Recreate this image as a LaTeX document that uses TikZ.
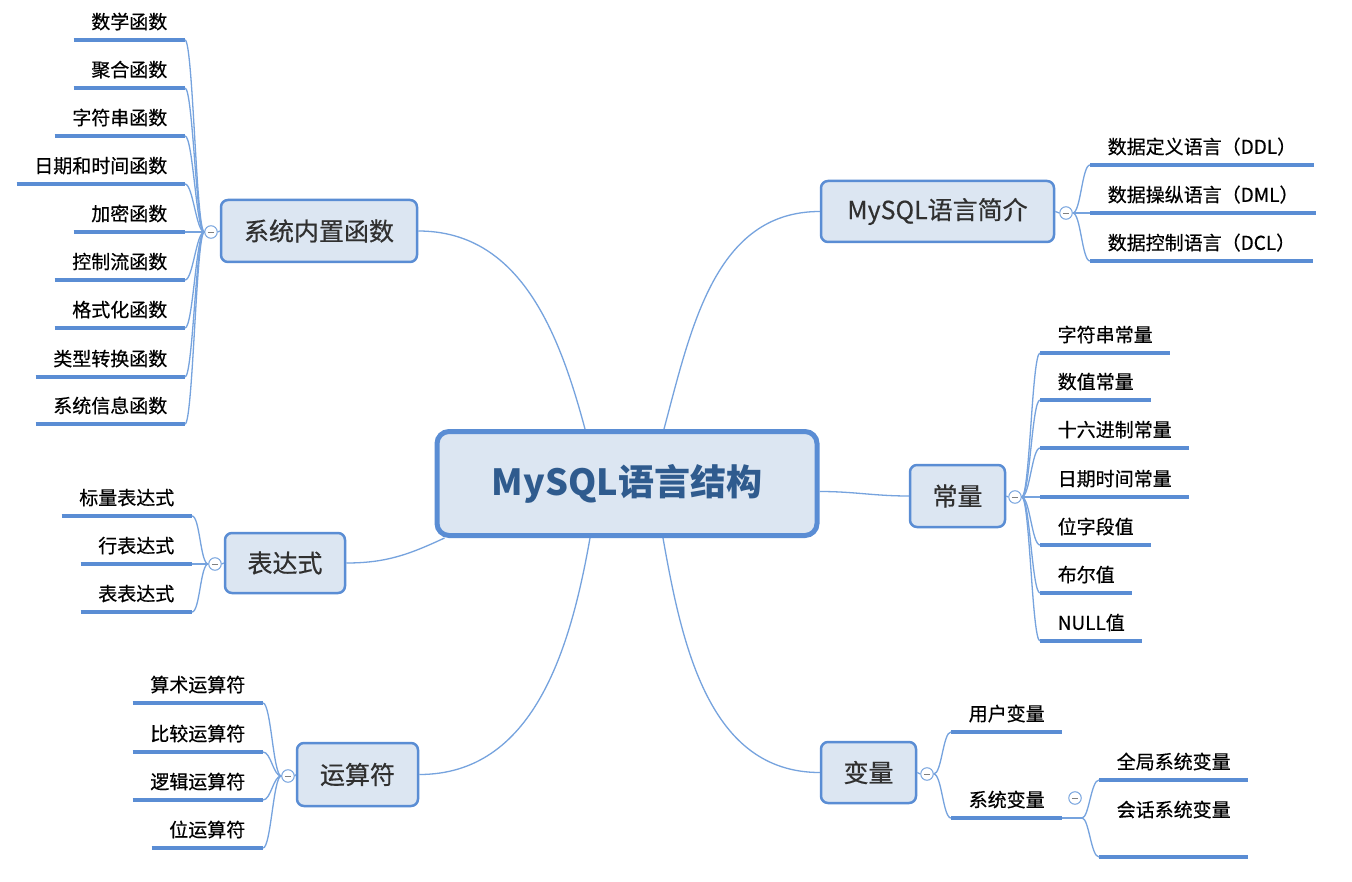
\documentclass[tikz,border=0pt]{standalone}
\usepackage{fontspec}
\setmainfont{Noto Sans CJK SC}
\newfontfamily\heavyfont[FakeBold=0.5]{Noto Sans CJK SC}
\usetikzlibrary{calc}
\definecolor{lineblue}{HTML}{5A8DD4}
\definecolor{connblue}{HTML}{76A3DE}
\definecolor{boxfill}{HTML}{DCE6F2}
\definecolor{titleblue}{HTML}{2F5B8E}
\definecolor{maintext}{HTML}{303030}
\begin{document}
\begin{tikzpicture}[x=1pt,y=-1pt,
  root/.style={draw=lineblue, line width=5pt, fill=boxfill, rounded corners=12pt,
    minimum width=380pt, minimum height=104pt, text=titleblue,
    font=\fontsize{36}{42}\selectfont\bfseries},
  topic/.style={draw=lineblue, line width=2.5pt, fill=boxfill, rounded corners=7pt,
    minimum height=62pt, text=maintext, font=\heavyfont\fontsize{25}{30}\selectfont},
  leafbase/.style={inner xsep=17.5pt, inner ysep=0pt, text height=16pt, text depth=11pt,
    font=\heavyfont\fontsize{19}{23}\selectfont, text=black},
  leafL/.style={leafbase, anchor=south east},
  leafR/.style={leafbase, anchor=south west},
  uline/.style={draw=lineblue, line width=4pt},
  conn/.style={draw=connblue, line width=1.3pt},
  collapse/.style={circle, draw=connblue, fill=white, line width=1pt, minimum size=12.5pt, inner sep=0pt,
    path picture={\draw[gray, line width=0.9pt]
      ([xshift=3.2pt]path picture bounding box.west) -- ([xshift=-3.2pt]path picture bounding box.east);}}
]
\fill[white] (0,0) rectangle (1352,882);
\useasboundingbox (0,0) rectangle (1352,882);

% central and topic nodes
\node[root] (root) at (627,483.5) {MySQL语言结构};
\node[topic, minimum width=196pt] (sys) at (319,231) {系统内置函数};
\node[topic, minimum width=233pt, minimum height=61pt] (intro) at (937.5,211.5) {MySQL语言简介};
\node[topic, minimum width=95pt] (const) at (957.5,496) {常量};
\node[topic, minimum width=120pt, minimum height=60pt] (expr) at (285,563) {表达式};
\node[topic, minimum width=121pt, minimum height=63pt] (op) at (357.5,774.5) {运算符};
\node[topic, minimum width=95pt, minimum height=61pt] (var) at (868.5,772.5) {变量};

% collapse buttons
\node[collapse] (csys) at (211,232) {};
\node[collapse] (cintro) at (1066,213) {};
\node[collapse] (cconst) at (1015,497) {};
\node[collapse] (cexpr) at (215,564) {};
\node[collapse] (cop) at (288,776) {};
\node[collapse] (cvar) at (927,774) {};
\node[collapse] (csv) at (1075,798) {};

% leaves: 系统内置函数
\node[leafL] (f1) at (185,40) {数学函数};
\node[leafL] (f2) at (185,88) {聚合函数};
\node[leafL] (f3) at (185,136) {字符串函数};
\node[leafL] (f4) at (185,184) {日期和时间函数};
\node[leafL] (f5) at (185,232) {加密函数};
\node[leafL] (f6) at (185,280) {控制流函数};
\node[leafL] (f7) at (185,328) {格式化函数};
\node[leafL] (f8) at (185,377) {类型转换函数};
\node[leafL] (f9) at (185,424) {系统信息函数};

% leaves: MySQL语言简介
\node[leafR] (i1) at (1090,165) {数据定义语言（DDL）};
\node[leafR] (i2) at (1090,213) {数据操纵语言（DML）};
\node[leafR] (i3) at (1090,261) {数据控制语言（DCL）};

% leaves: 常量
\node[leafR] (k1) at (1040,353) {字符串常量};
\node[leafR] (k2) at (1040,400) {数值常量};
\node[leafR] (k3) at (1040,448) {十六进制常量};
\node[leafR] (k4) at (1040,497) {日期时间常量};
\node[leafR] (k5) at (1040,545) {位字段值};
\node[leafR] (k6) at (1040,593) {布尔值};
\node[leafR] (k7) at (1040,641) {NULL值};

% leaves: 表达式
\node[leafL] (e1) at (192,516) {标量表达式};
\node[leafL] (e2) at (192,564) {行表达式};
\node[leafL] (e3) at (192,612) {表表达式};

% leaves: 运算符
\node[leafL] (o1) at (263,703) {算术运算符};
\node[leafL] (o2) at (263,752) {比较运算符};
\node[leafL] (o3) at (263,800) {逻辑运算符};
\node[leafL] (o4) at (263,848) {位运算符};

% leaves: 变量
\node[leafR] (v1) at (951,732) {用户变量};
\node[leafR] (v2) at (951,818) {系统变量};
\node[leafR] (s1) at (1099,780) {全局系统变量};
\node[leafR, text depth=40pt] (s2) at (1099,857) {会话系统变量};
\coordinate (svj) at (1082,818);

% underlines
\foreach \l in {f1,f2,f3,f4,f5,f6,f7,f8,f9,i1,i2,i3,k1,k2,k3,k4,k5,k6,k7,e1,e2,e3,o1,o2,o3,o4,v1,v2,s1,s2}
  \draw[uline] (\l.south west) -- (\l.south east);

% root to topics
\draw[conn] ([xshift=-42pt]root.north) to[out=105,in=0] (sys.east);
\draw[conn] ([xshift=37pt]root.north) to[out=75,in=180] (intro.west);
\draw[conn] ([yshift=-8pt]root.east) to[out=0,in=180] (const.west);
\draw[conn] ([xshift=10pt]root.south west) to[out=205,in=0] (expr.east);
\draw[conn] ([xshift=-37pt]root.south) to[out=260,in=0] (op.east);
\draw[conn] ([xshift=36pt]root.south) to[out=280,in=180] (var.west);

% topics to collapse buttons
\draw[conn] (sys.west) -- (csys.east);
\draw[conn] (intro.east) -- (cintro.west);
\draw[conn] (const.east) -- (cconst.west);
\draw[conn] (expr.west) -- (cexpr.east);
\draw[conn] (op.west) -- (cop.east);
\draw[conn] (var.east) -- (cvar.west);

% branches to leaves
\foreach \l in {f1,f2,f3,f4,f5,f6,f7,f8,f9}
  \draw[conn] (csys.west) .. controls +(-8,0) and +(8,0) .. (\l.south east);
\foreach \l in {i1,i2,i3}
  \draw[conn] (cintro.east) .. controls +(8,0) and +(-8,0) .. (\l.south west);
\foreach \l in {k1,k2,k3,k4,k5,k6,k7}
  \draw[conn] (cconst.east) .. controls +(8,0) and +(-8,0) .. (\l.south west);
\foreach \l in {e1,e2,e3}
  \draw[conn] (cexpr.west) .. controls +(-8,0) and +(8,0) .. (\l.south east);
\foreach \l in {o1,o2,o3,o4}
  \draw[conn] (cop.west) .. controls +(-8,0) and +(8,0) .. (\l.south east);
\foreach \l in {v1,v2}
  \draw[conn] (cvar.east) .. controls +(8,0) and +(-8,0) .. (\l.south west);
\draw[conn] (v2.south east) -- (svj);
\foreach \l in {s1,s2}
  \draw[conn] (svj) .. controls +(7,0) and +(-8,0) .. (\l.south west);
\end{tikzpicture}
\end{document}
